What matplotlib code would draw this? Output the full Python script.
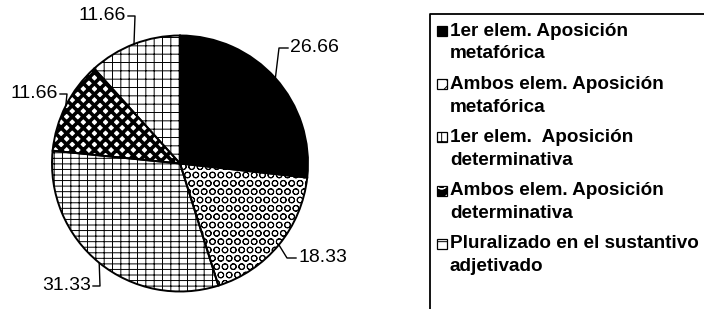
import matplotlib
matplotlib.use("Agg")
import matplotlib.pyplot as plt
import numpy as np
from matplotlib.patches import Rectangle

# ── Data ─────────────────────────────────────────────────────
categories = [
    "1er elem. Aposición\nmetafórica",
    "Ambos elem. Aposición\nmetafórica",
    "1er elem.  Aposición\ndeterminativa",
    "Ambos elem. Aposición\ndeterminativa",
    "Pluralizado en el sustantivo\nadjetivado",
]
values = [26.66, 18.33, 31.33, 11.66, 11.66]
value_labels = ["26.66", "18.33", "31.33", "11.66", "11.66"]

# ── Styles ───────────────────────────────────────────────────
faces   = ["black", "white", "white", "white", "white"]
hatches = [None, "OO", "---||", "xxx", "++"]
hcolors = ["black", "black", "black", "black", "black"]
hwidths = [0.7, 0.7, 0.7, 2.6, 0.7]
# legend swatches (small versions of the fills)
sw_faces   = ["black", "white", "white", "black", "white"]
sw_hatches = [None, "x", "-|", "O", "-"]
sw_hcolors = ["black", "black", "black", "white", "black"]

plt.rcParams.update({"font.family": ["Liberation Sans", "DejaVu Sans"],
                     "hatch.linewidth": 0.7})

W, H = 704, 309
fig = plt.figure(figsize=(W / 100, H / 100), dpi=100)
ax = fig.add_axes([0, 0, 1, 1])

def Y(y):  # image y (top-down) -> data y
    return H - y

cx, cy, R = 180, Y(163.5), 128

def style(p, h, hc, hw):
    if h:
        p.set_hatch(h)
    p.set_edgecolor(hc)
    p.set_linewidth(0)
    try:
        p.set_hatch_linewidth(hw)
    except AttributeError:
        pass

wedges, _ = ax.pie(values, startangle=90, counterclock=False,
                   center=(cx, cy), radius=R, frame=True,
                   colors=faces, wedgeprops=dict(linewidth=0))
for w, h, hc, hw in zip(wedges, hatches, hcolors, hwidths):
    style(w, h, hc, hw)
ax.pie(values, startangle=90, counterclock=False,
       center=(cx, cy), radius=R, frame=True,
       wedgeprops=dict(fill=False, edgecolor="black", linewidth=1.4))
ax.set_xlim(0, W)
ax.set_ylim(0, H)
ax.axis("off")

# ── Value labels with leader lines ───────────────────────────
# (text x, text y, side) in image pixels
lab_pos = [(290, 48, "left"), (298, 258, "left"), (91, 286, "right"),
           (58, 94, "right"), (126, 16, "right")]
for w, txt, (tx, ty, side) in zip(wedges, value_labels, lab_pos):
    ang = np.deg2rad((w.theta1 + w.theta2) / 2)
    ex, ey = cx + R * np.cos(ang), cy + R * np.sin(ang)
    if side == "left":
        elbow, end = tx - 11, tx - 2
    else:
        elbow, end = tx + 9, tx + 2
    ax.plot([ex, elbow, end], [ey, Y(ty), Y(ty)], color="black", lw=1.0)
    ax.text(tx, Y(ty), txt, ha=side, va="center", fontsize=14)

# ── Legend ───────────────────────────────────────────────────
ax.plot([430, 430, W + 5], [-5, Y(14), Y(14)], color="black", lw=1.3,
        clip_on=False)
for i, (lab, fc, h, hc) in enumerate(zip(categories, sw_faces, sw_hatches,
                                         sw_hcolors)):
    yc = 31 + i * 53.2
    sq = Rectangle((437, Y(yc) - 5), 10, 10, facecolor=fc)
    ax.add_patch(sq)
    style(sq, h, hc, 0.7)
    ax.add_patch(Rectangle((437, Y(yc) - 5), 10, 10, fill=False,
                           edgecolor="black", lw=0.9))
    first, second = lab.split("\n")
    ax.text(450, Y(yc), first, ha="left", va="center", fontsize=13.6,
            fontweight="bold")
    ax.text(450, Y(yc + 23), second, ha="left", va="center", fontsize=13.6,
            fontweight="bold")

fig.savefig("out.png", dpi=100)
